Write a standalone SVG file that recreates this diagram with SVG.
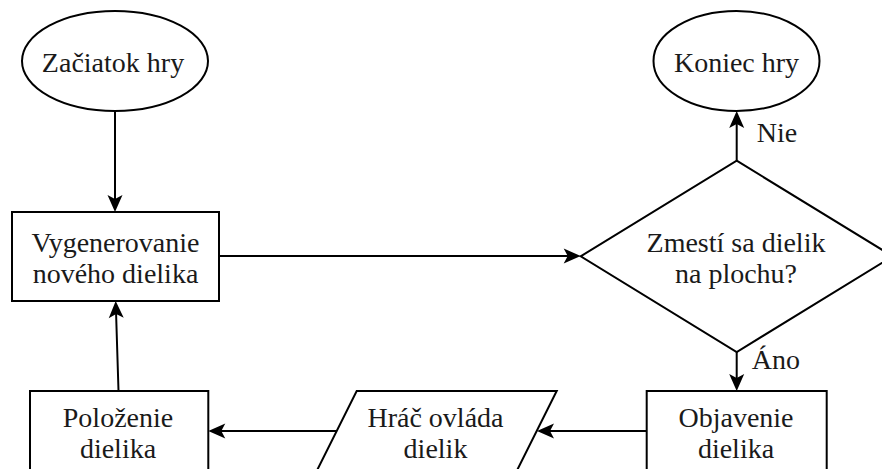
<svg xmlns="http://www.w3.org/2000/svg" width="882" height="469" viewBox="0 0 882 469">
  <style>
    .shape { fill: #ffffff; stroke: #000000; stroke-width: 2; }
    .edge { fill: none; stroke: #000000; stroke-width: 2; }
    .label { font-family: "Liberation Serif", "Times New Roman", serif; font-size: 28px; fill: #1a1a1a; text-anchor: middle; }
    .tag { font-family: "Liberation Serif", "Times New Roman", serif; font-size: 28px; fill: #1a1a1a; }
  </style>
  <defs>
    <!-- stealth arrowhead; tip sits 10 units ahead of the line end -->
    <marker id="arrow" viewBox="-8 -8 19 16" markerWidth="19" markerHeight="16" refX="0" refY="0" orient="auto" markerUnits="userSpaceOnUse">
      <path d="M10,0 L-7,-7.5 L-3,0 L-7,7.5 Z" fill="#000000"/>
    </marker>
  </defs>
  <rect width="882" height="469" fill="#ffffff"/>

  <!-- connectors -->
  <g id="connectors">
    <line class="edge" x1="115" y1="111" x2="115" y2="202" marker-end="url(#arrow)"/>
    <line class="edge" x1="219" y1="256" x2="570.7" y2="256" marker-end="url(#arrow)"/>
    <line class="edge" x1="736.7" y1="160.7" x2="736.7" y2="121" marker-end="url(#arrow)"/>
    <line class="edge" x1="736.7" y1="352" x2="736.7" y2="381" marker-end="url(#arrow)"/>
    <line class="edge" x1="646.7" y1="431" x2="547" y2="431" marker-end="url(#arrow)"/>
    <line class="edge" x1="336.5" y1="431" x2="218.3" y2="431" marker-end="url(#arrow)"/>
    <line class="edge" x1="118.5" y1="391" x2="116" y2="311" marker-end="url(#arrow)"/>
    <text class="tag" x="756.7" y="141.7">Nie</text>
    <text class="tag" x="751.7" y="369">Áno</text>
  </g>

  <!-- nodes -->
  <g id="start">
    <ellipse class="shape" cx="115" cy="61" rx="93" ry="50"/>
    <text class="label" x="113" y="71.5">Začiatok hry</text>
  </g>
  <g id="end">
    <ellipse class="shape" cx="736.5" cy="61" rx="83" ry="50"/>
    <text class="label" x="736.5" y="72">Koniec hry</text>
  </g>
  <g id="generate">
    <rect class="shape" x="12" y="212" width="207" height="89"/>
    <text class="label" x="115.5" y="252">Vygenerovanie</text>
    <text class="label" x="115.5" y="283">nového dielika</text>
  </g>
  <g id="decision">
    <polygon class="shape" points="736.7,160.7 892.7,256.3 736.7,352 580.7,256.3"/>
    <text class="label" x="736" y="251.7">Zmestí sa dielik</text>
    <text class="label" x="736" y="283">na plochu?</text>
  </g>
  <g id="reveal">
    <rect class="shape" x="646.7" y="391" width="180" height="100"/>
    <text class="label" x="736" y="426.7">Objavenie</text>
    <text class="label" x="736" y="457.7">dielika</text>
  </g>
  <g id="control">
    <polygon class="shape" points="356.7,391 556.7,391 506.7,491 306.7,491"/>
    <text class="label" x="435.5" y="426.7">Hráč ovláda</text>
    <text class="label" x="435.5" y="457.7">dielik</text>
  </g>
  <g id="place">
    <rect class="shape" x="30" y="391" width="178.3" height="100"/>
    <text class="label" x="118" y="426.7">Položenie</text>
    <text class="label" x="118" y="457.7">dielika</text>
  </g>
</svg>
